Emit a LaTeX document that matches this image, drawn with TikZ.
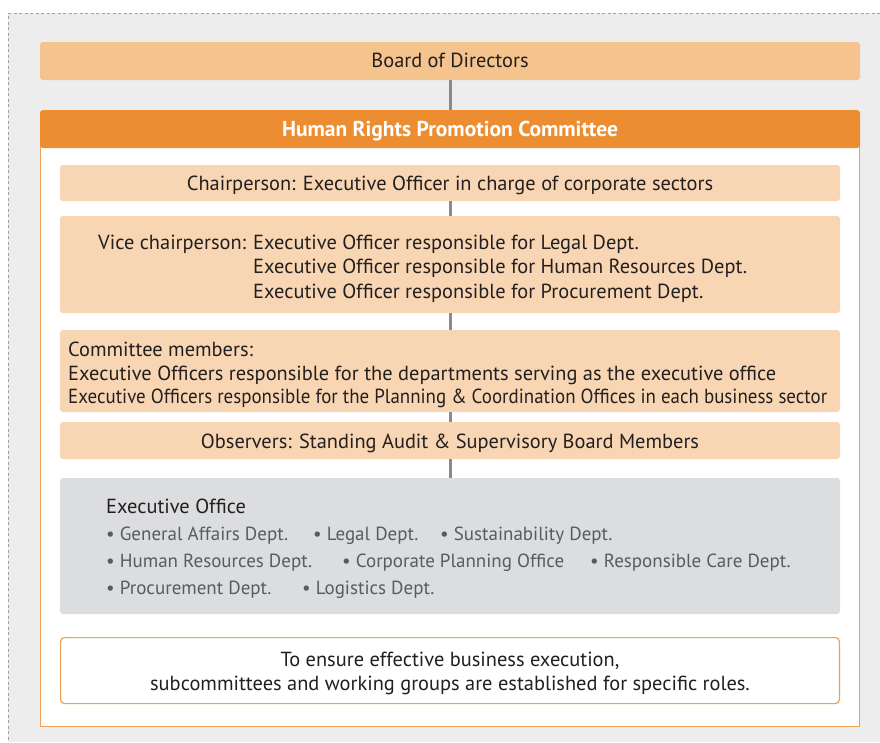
\documentclass[tikz,border=0pt]{standalone}
\usepackage{fontspec}
\setmainfont{PT Sans}
\definecolor{bgray}{HTML}{EDEDED}
\definecolor{dashc}{HTML}{A0A0A0}
\definecolor{boardc}{HTML}{F5C38E}
\definecolor{headc}{HTML}{EB8D30}
\definecolor{framec}{HTML}{EFA055}
\definecolor{lightc}{HTML}{F8D6B3}
\definecolor{officec}{HTML}{DCDDDF}
\definecolor{linkc}{HTML}{8A8A8A}
\definecolor{txtc}{HTML}{231F20}
\definecolor{itemc}{HTML}{5A5B5D}
\tikzset{
  x=1pt, y=-1pt,
  txt/.style={anchor=base, inner sep=0pt, font=\fontsize{20.4}{24}\selectfont, text=txtc},
  ltxt/.style={txt, anchor=base west},
  link/.style={draw=linkc, line width=3pt},
  item/.style={anchor=base west, font=\fontsize{19}{24}\selectfont, text=itemc, inner sep=0pt},
}
\begin{document}
\begin{tikzpicture}
\useasboundingbox (0,0) rectangle (880,742);
\fill[bgray] (8,13) rectangle (880,742);
\draw[dashc, line width=1pt, dash pattern=on 3pt off 2.5pt] (880,13) -- (8.5,13) -- (8.5,742);

% Board
\fill[boardc, rounded corners=3pt] (40,42) rectangle (860,80);
\node[txt] (board) at (450,67.5) {Board of Directors};
\coordinate (boardS) at (450,80);

% Committee frame
\draw[framec, fill=white, line width=1.2pt] (40.6,130) rectangle (859.4,726.4);
\fill[headc, rounded corners=3pt] (40,110) rectangle (860,148);
\coordinate (headN) at (450,110);
\node[txt, text=white, font=\fontsize{21.5}{24}\selectfont\bfseries] (head) at (450,136) {Human Rights Promotion Committee};

\draw[link] (boardS) -- (headN);

% Chairperson
\fill[lightc, rounded corners=3pt] (60,165) rectangle (840,201);
\node[txt] (chair) at (450,190.5) {Chairperson: Executive Officer in charge of corporate sectors};
\coordinate (chairS) at (450,201);

% Vice
\fill[lightc, rounded corners=3pt] (60,216) rectangle (840,313);
\coordinate (viceN) at (450,216);
\coordinate (viceS) at (450,313);
\node[ltxt] (vicel) at (98,249) {Vice chairperson:};
\node[ltxt] (vice1) at (253,249) {Executive Officer responsible for Legal Dept.};
\node[ltxt] (vice2) at (253,273.5) {Executive Officer responsible for Human Resources Dept.};
\node[ltxt] (vice3) at (253,298) {Executive Officer responsible for Procurement Dept.};

% Committee members
\fill[lightc, rounded corners=3pt] (60,330) rectangle (840,412);
\coordinate (memN) at (450,330);
\coordinate (memS) at (450,412);
\node[ltxt] (mem0) at (68,356.5) {Committee members:};
\node[ltxt] (mem1) at (68,380) {Executive Officers responsible for the departments serving as the executive office};
\node[ltxt] (mem2) at (68,403.5) {\scalebox{0.928}[1]{Executive Officers responsible for the Planning \& Coordination Offices in each business sector}};

% Observers
\fill[lightc, rounded corners=3pt] (60,422) rectangle (840,459);
\coordinate (obsN) at (450,422);
\coordinate (obsS) at (450,459);
\node[txt] (obs) at (450,448) {Observers: Standing Audit \& Supervisory Board Members};

% Executive office
\fill[officec, rounded corners=3pt] (60,478) rectangle (840,614);
\coordinate (offN) at (450,478);
\node[ltxt] (offt) at (106,513) {Executive Office};
\node[item] (i1) at (106,540) {• General Affairs Dept.};
\node[item] (i2) at (313,540) {• Legal Dept.};
\node[item] (i3) at (440,540) {• Sustainability Dept.};
\node[item] (i4) at (106,567) {• Human Resources Dept.};
\node[item] (i5) at (342,567) {• Corporate Planning Office};
\node[item] (i6) at (590,567) {• Responsible Care Dept.};
\node[item] (i7) at (106,594) {• Procurement Dept.};
\node[item] (i8) at (302,594) {• Logistics Dept.};

\draw[link] (chairS) -- (viceN);
\draw[link] (viceS) -- (memN);
\draw[link] (memS) -- (obsN);
\draw[link] (obsS) -- (offN);

% Bottom note
\draw[framec, fill=white, line width=1.2pt, rounded corners=4pt] (60.6,637.6) rectangle (839.4,703.6);
\node[txt] (note1) at (450,666) {To ensure effective business execution,};
\node[txt] (note2) at (450,690) {subcommittees and working groups are established for specific roles.};
\end{tikzpicture}
\end{document}
